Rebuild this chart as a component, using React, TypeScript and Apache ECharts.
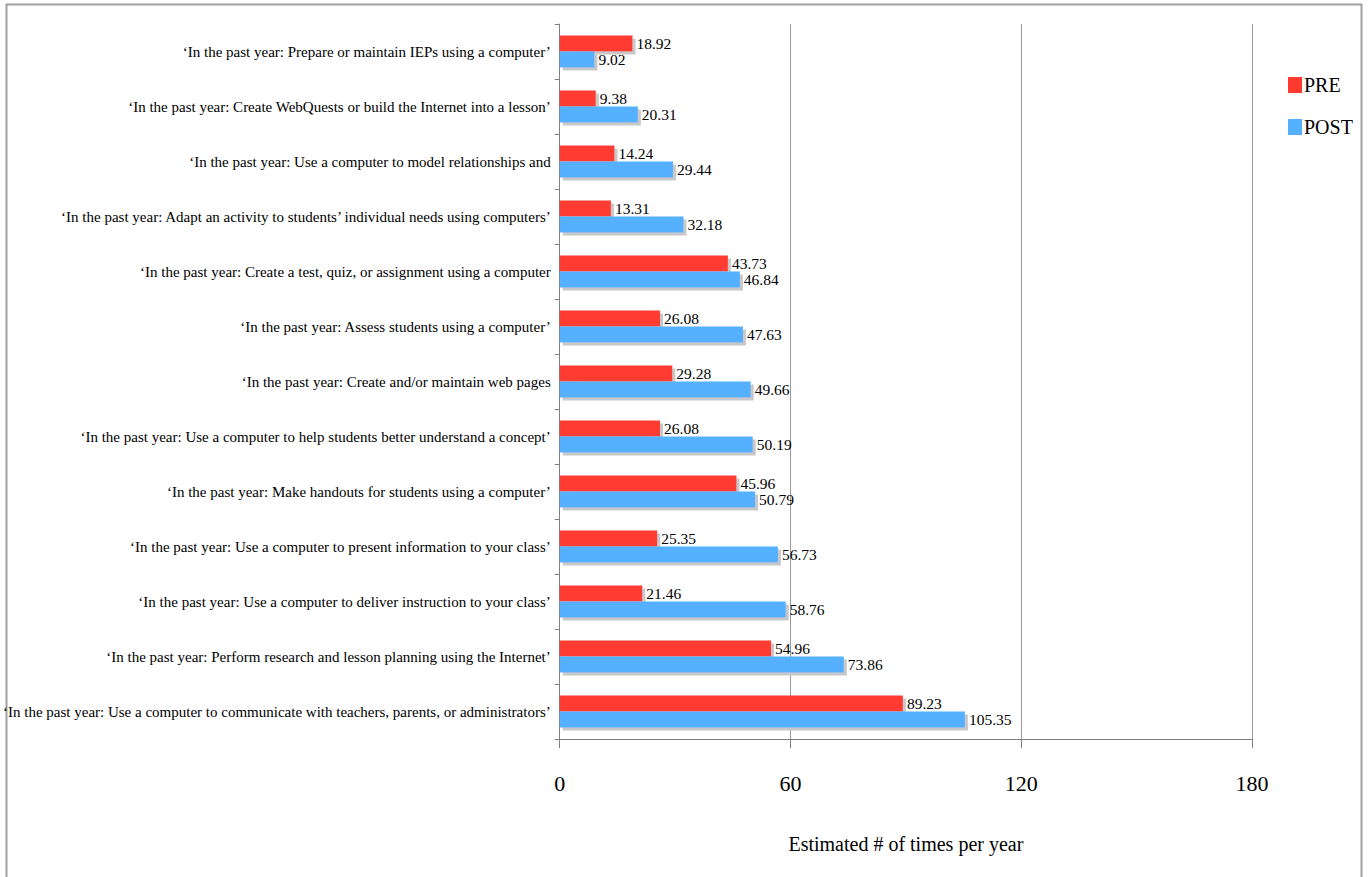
import React, { useEffect, useRef } from "react";
import * as echarts from "echarts";

const categories = [
  "‘In the past year: Prepare or maintain IEPs using a computer’",
  "‘In the past year: Create WebQuests or build the Internet into a lesson’",
  "‘In the past year: Use a computer to model relationships and",
  "‘In the past year: Adapt an activity to students’ individual needs using computers’",
  "‘In the past year: Create a test, quiz, or assignment using a computer",
  "‘In the past year: Assess students using a computer’",
  "‘In the past year: Create and/or maintain web pages",
  "‘In the past year: Use a computer to help students better understand a concept’",
  "‘In the past year: Make handouts for students using a computer’",
  "‘In the past year: Use a computer to present information to your class’",
  "‘In the past year: Use a computer to deliver instruction to your class’",
  "‘In the past year: Perform research and lesson planning using the Internet’",
  "‘In the past year: Use a computer to communicate with teachers, parents, or administrators’",
];
const preValues = [18.92, 9.38, 14.24, 13.31, 43.73, 26.08, 29.28, 26.08, 45.96, 25.35, 21.46, 54.96, 89.23];
const postValues = [9.02, 20.31, 29.44, 32.18, 46.84, 47.63, 49.66, 50.19, 50.79, 56.73, 58.76, 73.86, 105.35];
const xTicks = [0, 60, 120, 180];
const seriesNames = ["PRE", "POST"];

const FONT = "'Liberation Serif', 'Times New Roman', serif";

export default function App() {
  const ref = useRef<HTMLDivElement>(null);
  useEffect(() => {
    if (!ref.current) return;
    const chart = echarts.init(ref.current, undefined, { renderer: "svg" });
    const labelStyle = {
      show: true,
      position: "right" as const,
      distance: 4,
      color: "#000",
      fontFamily: FONT,
      fontSize: 15.5,
      formatter: (p: any) => Number(p.value).toFixed(2),
    };
    const shadow = {
      shadowColor: "#c8c8c8",
      shadowOffsetX: 3,
      shadowOffsetY: 3,
      shadowBlur: 0,
    };
    chart.setOption({
      animation: false,
      backgroundColor: "#fff",
      textStyle: { fontFamily: FONT },
      graphic: [
        {
          type: "rect",
          shape: { x: 6.5, y: 4.5, width: 1355, height: 880 },
          style: { fill: "none", stroke: "#a0a0a0", lineWidth: 2 },
          silent: true,
          z: -10,
        },
      ],
      grid: { left: 558, top: 24, right: 116, bottom: 138, containLabel: false },
      legend: {
        orient: "vertical",
        left: 1283,
        top: 70,
        itemWidth: 14,
        itemHeight: 16,
        itemGap: 22,
        icon: "rect",
        data: seriesNames,
        textStyle: { fontFamily: FONT, fontSize: 20, color: "#000", padding: [0, 0, 0, -3] },
      },
      xAxis: {
        type: "value",
        min: 0,
        max: 180,
        interval: 60,
        axisLine: { show: true, lineStyle: { color: "#808080", width: 1 } },
        axisTick: { show: true, length: 9, lineStyle: { color: "#808080" } },
        splitLine: { show: true, lineStyle: { color: "#999", width: 1 } },
        axisLabel: {
          margin: 33,
          fontFamily: FONT,
          fontSize: 22,
          color: "#000",
          formatter: (v: number) => (xTicks.includes(v) ? String(v) : ""),
        },
        name: "Estimated # of times per year",
        nameLocation: "middle",
        nameGap: 95,
        nameTextStyle: { fontFamily: FONT, fontSize: 20, color: "#000" },
      },
      yAxis: {
        type: "category",
        inverse: true,
        data: categories,
        axisLine: { show: true, lineStyle: { color: "#808080", width: 1 } },
        axisTick: { show: true, length: 5, lineStyle: { color: "#808080" } },
        axisLabel: {
          margin: 9,
          fontFamily: FONT,
          fontSize: 15,
          color: "#000",
        },
      },
      series: [
        {
          name: seriesNames[0],
          type: "bar",
          data: preValues,
          barGap: "0%",
          barCategoryGap: "42%",
          itemStyle: { color: "#ff3b30", ...shadow },
          label: labelStyle,
        },
        {
          name: seriesNames[1],
          type: "bar",
          data: postValues,
          barGap: "0%",
          barCategoryGap: "42%",
          itemStyle: { color: "#55b1ff", ...shadow },
          label: labelStyle,
        },
      ],
    });
    return () => chart.dispose();
  }, []);
  return (
    <div
      ref={ref}
      style={{ position: "fixed", left: 0, top: 0, width: 1368, height: 877 }}
    />
  );
}
